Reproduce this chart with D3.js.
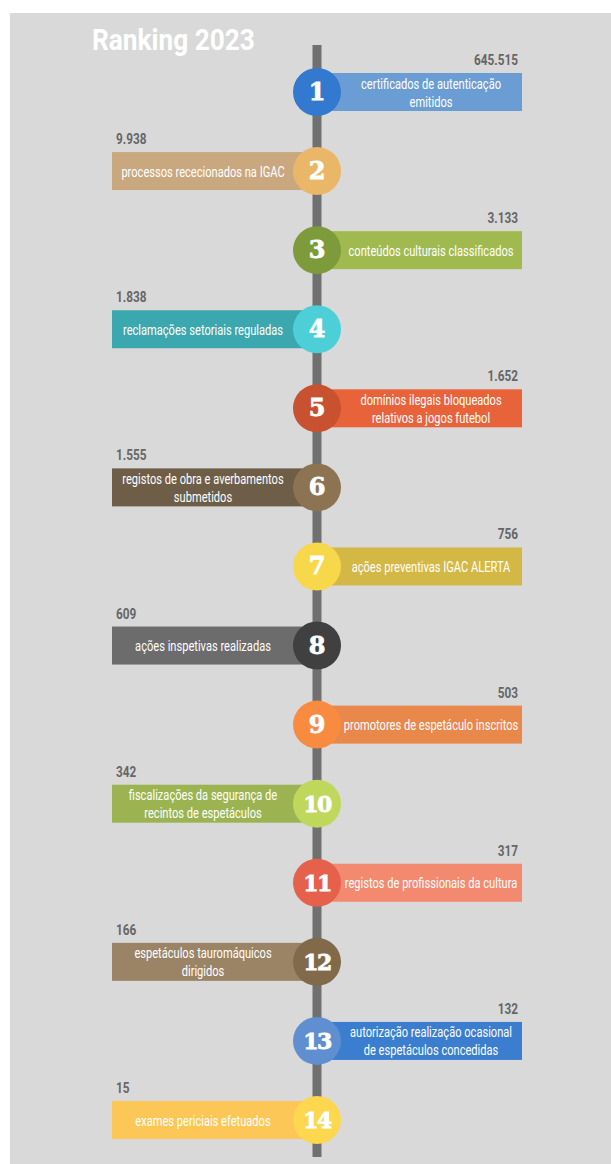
<!DOCTYPE html>
<html>
<head>
<meta charset="utf-8">
<script src="https://cdn.jsdelivr.net/npm/d3@7"></script>
<style>
  html, body { margin: 0; padding: 0; background: #ffffff; }
  svg { display: block; }
</style>
</head>
<body>
<svg id="chart" width="611" height="1164"></svg>
<script>
// ---- data ----
const title = "Ranking 2023";
const ranks = [1, 2, 3, 4, 5, 6, 7, 8, 9, 10, 11, 12, 13, 14];
const values = [645515, 9938, 3133, 1838, 1652, 1555, 756, 609, 503, 342, 317, 166, 132, 15];
const labels = [
  ["certificados de autenticação", "emitidos"],
  ["processos rececionados na IGAC"],
  ["conteúdos culturais classificados"],
  ["reclamações setoriais reguladas"],
  ["domínios ilegais bloqueados", "relativos a jogos futebol"],
  ["registos de obra e averbamentos", "submetidos"],
  ["ações preventivas IGAC ALERTA"],
  ["ações inspetivas realizadas"],
  ["promotores de espetáculo inscritos"],
  ["fiscalizações da segurança de", "recintos de espetáculos"],
  ["registos de profissionais da cultura"],
  ["espetáculos tauromáquicos", "dirigidos"],
  ["autorização realização ocasional", "de espetáculos concedidas"],
  ["exames periciais efetuados"]
];
const barColors = ["#6a9dd4", "#c9a87f", "#a0ba50", "#3ba7ae", "#e9633a", "#6e5e47",
                   "#d3b846", "#6c6c6c", "#e8884b", "#9bb451", "#f38a6f", "#9b8465",
                   "#3b7ecf", "#fcc757"];
const circleColors = ["#3279cf", "#eab667", "#7e9b3c", "#4dcfd8", "#c8512f", "#8c7453",
                      "#f8d84b", "#404040", "#f88b3f", "#bfd75b", "#e5614c", "#816a49",
                      "#5f8fd0", "#fdd74d"];

// ---- layout ----
const W = 611, H = 1164;
const svg = d3.select("#chart");
const ptFmt = d3.formatLocale({decimal: ",", thousands: ".", grouping: [3], currency: ["", "€"]}).format(",d");

const axisX = 317;
const y = d3.scalePoint().domain(ranks).range([92, 1120]);
const barColor = d3.scaleOrdinal().domain(ranks).range(barColors);
const circleColor = d3.scaleOrdinal().domain(ranks).range(circleColors);
const side = r => (r % 2 === 1 ? 1 : -1);   // odd ranks to the right
const barLen = 205, barH = 38, R = 24;

const textFont = "Roboto, 'Liberation Sans', sans-serif";

// measure natural text width to emulate the condensed typeface
function measure(txt, size, weight) {
  const t = svg.append("text").attr("font-family", textFont).attr("font-size", size)
    .attr("font-weight", weight).text(txt);
  const w = t.node().getComputedTextLength();
  t.remove();
  return w;
}
const labelSize = 15;
const sx = 165 / measure("conteúdos culturais classificados", labelSize, "normal");
const valSx = 44 / measure("645.515", 15, "bold");
const titleSx = 163 / measure(title, 30, "bold");

// panel
svg.append("rect").attr("x", 10).attr("y", 13).attr("width", W - 10).attr("height", H - 13)
  .attr("fill", "#d9d9d9");

// title
svg.append("g").attr("transform", `translate(92,50) scale(${titleSx},1)`)
  .append("text")
  .attr("font-family", textFont).attr("font-weight", "bold").attr("font-size", 30)
  .attr("fill", "#ffffff").text(title);

// vertical line
svg.append("rect").attr("x", axisX - 4.5).attr("y", 45).attr("width", 9).attr("height", 1157 - 45)
  .attr("fill", "#707070");

const g = svg.append("g").selectAll("g").data(ranks).join("g")
  .attr("transform", r => `translate(${axisX},${y(r)})`);

// bars
g.append("rect")
  .attr("x", r => side(r) > 0 ? 0 : -barLen)
  .attr("y", -barH / 2).attr("width", barLen).attr("height", barH)
  .attr("fill", r => barColor(r));

// bar labels
g.each(function(r, i) {
  const lines = labels[i];
  const cx = side(r) * (barLen - 91);
  const lh = 18;
  lines.forEach((ln, k) => {
    d3.select(this).append("g")
      .attr("transform", `translate(${cx},${(k - (lines.length - 1) / 2) * lh + 5.5}) scale(${sx},1)`)
      .append("text")
      .attr("text-anchor", "middle")
      .attr("font-family", textFont).attr("font-size", labelSize).attr("fill", "#ffffff")
      .text(ln);
  });
});

// values
g.append("g")
  .attr("transform", r => `translate(${side(r) > 0 ? barLen - 4 : -barLen + 4},${-barH / 2 - 8}) scale(${valSx},1)`)
  .append("text")
  .attr("text-anchor", r => side(r) > 0 ? "end" : "start")
  .attr("font-family", textFont).attr("font-weight", "bold").attr("font-size", 15)
  .attr("fill", "#666666")
  .text((r, i) => ptFmt(values[i]));

// circles
g.append("circle").attr("r", R).attr("fill", r => circleColor(r));

// rank numbers
g.append("text")
  .attr("text-anchor", "middle").attr("y", 8)
  .attr("font-family", "'DejaVu Serif', serif").attr("font-weight", "bold")
  .attr("font-size", r => r >= 10 ? 22 : 24)
  .attr("letter-spacing", r => r >= 10 ? -1.5 : 0)
  .attr("stroke", "#ffffff").attr("stroke-width", 0.8)
  .attr("fill", "#ffffff")
  .text(r => r);
</script>
</body>
</html>
